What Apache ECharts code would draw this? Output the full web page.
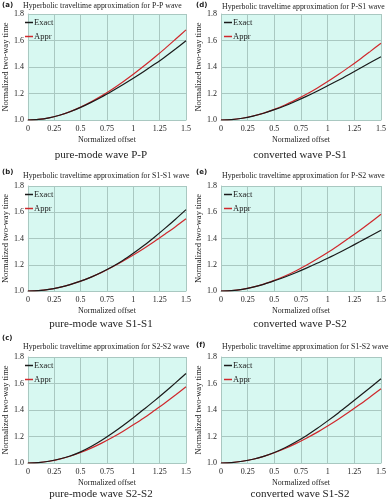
<!DOCTYPE html>
<html><head><meta charset="utf-8">
<script src="https://cdn.jsdelivr.net/npm/echarts@6/dist/echarts.min.js"></script>
<style>html,body{margin:0;padding:0;background:#fff}#c{width:389px;height:500px}</style>
</head><body><div id="c"></div>
<script>
const xOffsets = [0,0.1,0.2,0.3,0.4,0.5,0.6,0.7,0.8,0.9,1.0,1.1,1.2,1.3,1.4,1.5];
const xTicks = [0,0.25,0.5,0.75,1,1.25,1.5];
const yTicks = [1.0,1.2,1.4,1.6,1.8];

const ppExact = [1.000,1.004,1.016,1.036,1.062,1.095,1.133,1.174,1.219,1.266,1.315,1.366,1.420,1.476,1.536,1.598];
const ppAppr  = [1.000,1.004,1.016,1.036,1.063,1.097,1.137,1.182,1.232,1.287,1.345,1.407,1.472,1.539,1.609,1.680];
const s1s1Exact = [1.000,1.003,1.012,1.028,1.049,1.075,1.106,1.143,1.184,1.232,1.287,1.346,1.410,1.477,1.547,1.620];
const s1s1Appr  = [1.000,1.003,1.012,1.028,1.049,1.075,1.106,1.142,1.183,1.227,1.274,1.324,1.377,1.433,1.490,1.550];
const s2s2Exact = [1.000,1.003,1.013,1.030,1.053,1.084,1.124,1.171,1.224,1.281,1.342,1.405,1.469,1.536,1.605,1.675];
const s2s2Appr  = [1.000,1.003,1.013,1.029,1.051,1.079,1.112,1.150,1.192,1.238,1.288,1.340,1.396,1.453,1.513,1.575];
const ps1Exact = [1.000,1.003,1.013,1.029,1.051,1.078,1.108,1.142,1.178,1.217,1.258,1.300,1.344,1.389,1.434,1.478];
const ps1Appr  = [1.000,1.003,1.013,1.030,1.052,1.080,1.113,1.152,1.194,1.240,1.290,1.343,1.399,1.457,1.518,1.580];
const ps2Exact = [1.000,1.003,1.013,1.029,1.051,1.078,1.107,1.139,1.174,1.211,1.250,1.290,1.332,1.375,1.419,1.463];
const ps2Appr  = [1.000,1.003,1.013,1.030,1.052,1.081,1.114,1.153,1.196,1.243,1.293,1.347,1.403,1.461,1.522,1.585];
const s1s2Exact = [1.000,1.003,1.013,1.028,1.050,1.079,1.115,1.158,1.206,1.260,1.318,1.378,1.441,1.505,1.570,1.636];
const s1s2Appr  = [1.000,1.003,1.013,1.028,1.050,1.077,1.109,1.146,1.187,1.231,1.280,1.331,1.385,1.441,1.500,1.560];

const panelLabels = ['(a)','(b)','(c)','(d)','(e)','(f)'];
const panelTitles = [
  'Hyperbolic traveltime approximation for P-P wave',
  'Hyperbolic traveltime approximation for S1-S1 wave',
  'Hyperbolic traveltime approximation for S2-S2 wave',
  'Hyperbolic traveltime approximation for P-S1 wave',
  'Hyperbolic traveltime approximation for P-S2 wave',
  'Hyperbolic traveltime approximation for S1-S2 wave'
];
const captions = ['pure-mode wave P-P','pure-mode wave S1-S1','pure-mode wave S2-S2',
                  'converted wave P-S1','converted wave P-S2','converted wave S1-S2'];
const exactSets = [ppExact, s1s1Exact, s2s2Exact, ps1Exact, ps2Exact, s1s2Exact];
const apprSets  = [ppAppr, s1s1Appr, s2s2Appr, ps1Appr, ps2Appr, s1s2Appr];
const seriesNames = ['Exact','Appr'];
const xAxisName = 'Normalized offset';
const yAxisName = 'Normalized two-way time';

const gridBoxes = [
  {left:22, top:14, w:164, h:106},
  {left:22, top:186, w:164, h:105},
  {left:22, top:357, w:164, h:106},
  {left:221, top:14, w:164, h:106},
  {left:221, top:186, w:164, h:105},
  {left:221, top:357, w:164, h:106}
];
const labelY = [5,172,338,5,172,345];
const titleY = [6,176,347,7,176,347];
const captionY = [155,324,494,155,324,494];

const serif = 'Liberation Serif';
const gridColor = '#a9c8c1';
const bgColor = '#d7f8f1';
const colors = ['#1a1a1a','#d0282c'];

const grids=[], xAxes=[], yAxes=[], series=[], legends=[], graphics=[];
gridBoxes.forEach((g,i)=>{
  grids.push({left:g.left, top:g.top, width:g.w, height:g.h, show:true, backgroundColor:bgColor, borderWidth:0});
  xAxes.push({type:'value', gridIndex:i, min:xTicks[0], max:xTicks[xTicks.length-1], interval:0.25,
    name:xAxisName, nameLocation:'middle', nameGap:16,
    nameTextStyle:{fontFamily:serif, fontSize:8, color:'#222'},
    axisLine:{show:true, lineStyle:{color:gridColor}}, axisTick:{show:false},
    axisLabel:{fontFamily:serif, fontSize:8, color:'#222', margin:5, formatter:v=>String(v)},
    splitLine:{show:true, lineStyle:{color:gridColor, width:1}}});
  yAxes.push({type:'value', gridIndex:i, min:yTicks[0], max:yTicks[yTicks.length-1], interval:0.2,
    name:yAxisName, nameLocation:'middle', nameGap:15,
    nameTextStyle:{fontFamily:serif, fontSize:8.5, color:'#222'},
    axisLine:{show:true, lineStyle:{color:gridColor}}, axisTick:{show:false},
    axisLabel:{fontFamily:serif, fontSize:8, color:'#222', margin:4, formatter:v=>v.toFixed(1)},
    splitLine:{show:true, lineStyle:{color:gridColor, width:1}}});
  [exactSets[i], apprSets[i]].forEach((arr,k)=>{
    series.push({type:'line', name:seriesNames[k], xAxisIndex:i, yAxisIndex:i,
      data:xOffsets.map((x,j)=>[x,arr[j]]), smooth:0.3, symbol:'none',
      lineStyle:{color:colors[k], width:1.2}, itemStyle:{color:colors[k]},
      z: k===0 ? 3 : 2});
  });
  legends.push({orient:'vertical', left:g.left+3, top:g.top+4, itemGap:5, itemWidth:8, itemHeight:1.5,
    icon:'rect', data:seriesNames, selectedMode:false, padding:0,
    textStyle:{fontFamily:serif, fontSize:8.5, color:'#222', padding:[0,0,0,-4]}});
  const cx = i<3 ? 0 : 194;
  graphics.push({type:'text', x:cx+2, y:labelY[i], style:{text:panelLabels[i], fontSize:7, fontWeight:'bold', fontFamily:'DejaVu Sans', fill:'#222', align:'left', verticalAlign:'middle'}});
  graphics.push({type:'text', x:g.left+1, y:titleY[i], style:{text:panelTitles[i], fontSize:7.8, fontFamily:serif, fill:'#222', align:'left', verticalAlign:'middle'}});
  graphics.push({type:'text', x:g.left+g.w/2-3, y:captionY[i], style:{text:captions[i], fontSize:11, fontFamily:serif, fill:'#222', align:'center', verticalAlign:'middle'}});
});

const chart = echarts.init(document.getElementById('c'), null, {renderer:'canvas'});
chart.setOption({animation:false, grid:grids, xAxis:xAxes, yAxis:yAxes, series:series, legend:legends, graphic:graphics});
</script>
</body></html>
